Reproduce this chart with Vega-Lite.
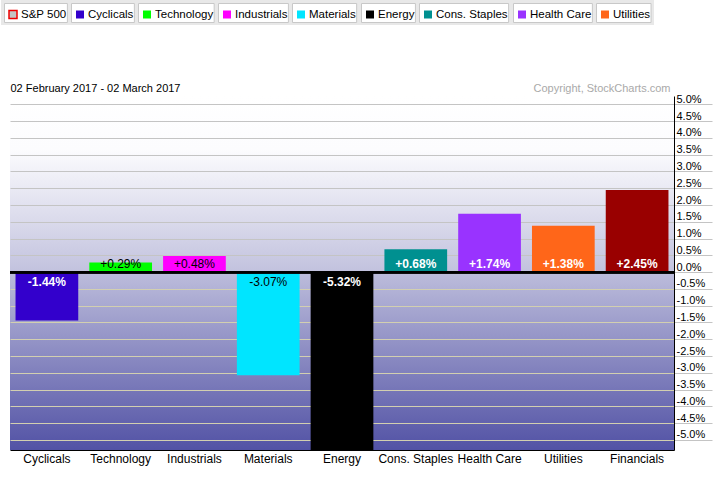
{
  "$schema": "https://vega.github.io/schema/vega-lite/v6.json",
  "width": 664,
  "height": 354,
  "autosize": {"type": "none"},
  "padding": {"left": 10, "top": 96, "right": 48, "bottom": 30},
  "background": "white",
  "view": {
    "stroke": null,
    "fill": {
      "gradient": "linear", "x1": 0, "y1": 0, "x2": 0, "y2": 1,
      "stops": [
        {"offset": 0, "color": "#ffffff"},
        {"offset": 0.15, "color": "#fcfcfe"},
        {"offset": 0.497, "color": "#c2c2de"},
        {"offset": 0.5, "color": "#bcbcdb"},
        {"offset": 1, "color": "#5252a5"}
      ]
    }
  },
  "config": {"font": "Liberation Sans"},
  "data": {
    "values": [
      {"sector": "Cyclicals", "change": -1.44, "label": "-1.44%"},
      {"sector": "Technology", "change": 0.29, "label": "+0.29%"},
      {"sector": "Industrials", "change": 0.48, "label": "+0.48%"},
      {"sector": "Materials", "change": -3.07, "label": "-3.07%"},
      {"sector": "Energy", "change": -5.32, "label": "-5.32%"},
      {"sector": "Cons. Staples", "change": 0.68, "label": "+0.68%"},
      {"sector": "Health Care", "change": 1.74, "label": "+1.74%"},
      {"sector": "Utilities", "change": 1.38, "label": "+1.38%"},
      {"sector": "Financials", "change": 2.45, "label": "+2.45%"}
    ]
  },
  "layer": [
    {
      "mark": {"type": "bar"},
      "encoding": {
        "x": {
          "field": "sector", "type": "nominal", "sort": null,
          "scale": {"paddingInner": 0.15, "paddingOuter": 0.075},
          "axis": {
            "title": "02 February 2017 - 02 March 2017",
            "titleX": 0, "titleY": -359, "titleAngle": 0,
            "titleAlign": "left", "titleAnchor": "start", "titleBaseline": "alphabetic",
            "titleFontSize": 11, "titleFontWeight": "normal", "titleColor": "black",
            "labelAngle": 0, "labelFontSize": 12, "labelColor": "black",
            "labelPadding": 3, "labelBaseline": "top",
            "ticks": false, "domainColor": "black", "domainWidth": 1, "grid": false
          }
        },
        "y": {
          "field": "change", "type": "quantitative",
          "scale": {"domain": [-5.3, 5.25], "clamp": true, "nice": false, "zero": false},
          "axis": {
            "orient": "right",
            "values": [-5, -4.5, -4, -3.5, -3, -2.5, -2, -1.5, -1, -0.5, 0, 0.5, 1, 1.5, 2, 2.5, 3, 3.5, 4, 4.5, 5],
            "tickCount": 50,
            "labelExpr": "(datum.value < 0 ? '-' : '') + format(abs(datum.value), '.1f') + '%'",
            "labelAlign": "left", "labelBaseline": "bottom", "labelPadding": -36,
            "labelFontSize": 11, "labelColor": "black",
            "labelFlush": false, "labelOverlap": false, "labelBound": false,
            "ticks": true, "tickSize": 38, "tickColor": "#c4c4c4", "tickWidth": 1,
            "domainColor": "black", "domainWidth": 1,
            "grid": true,
            "gridColor": {"condition": {"test": "datum.value < 0", "value": "#d2cfb0"}, "value": "#c4c4c4"},
            "gridWidth": 1,
            "title": "Copyright, StockCharts.com",
            "titleX": -4, "titleY": -5, "titleAngle": 0,
            "titleAlign": "right", "titleBaseline": "alphabetic",
            "titleFontSize": 11, "titleFontWeight": "normal", "titleColor": "#a9a9a9"
          }
        },
        "color": {
          "field": "sector", "type": "nominal",
          "scale": {
            "domain": ["S&P 500", "Cyclicals", "Technology", "Industrials", "Materials", "Energy", "Cons. Staples", "Health Care", "Utilities", "Financials"],
            "range": ["#c4c4c4", "#3300cc", "#00ff00", "#ff00ff", "#00e5ff", "#000000", "#009090", "#9933ff", "#ff6619", "#990000"]
          },
          "legend": {
            "orient": "none", "legendX": -9, "legendY": -96,
            "direction": "horizontal", "columns": 9,
            "values": ["S&P 500", "Cyclicals", "Technology", "Industrials", "Materials", "Energy", "Cons. Staples", "Health Care", "Utilities"],
            "title": null, "padding": 3, "fillColor": "#e8e8e8", "strokeColor": null,
            "columnPadding": 4, "rowPadding": 0,
            "symbolType": "square", "symbolSize": 64, "symbolStrokeWidth": 1.5,
            "labelFontSize": 11.5, "labelColor": "black", "labelFont": "Liberation Sans", "labelLimit": 300,
            "encode": {
              "entries": {
                "update": {
                  "fill": {"signal": "datum.value == 'S&P 500' ? '#c4c4c4' : '#ffffff'"},
                  "stroke": {"signal": "datum.value == 'S&P 500' ? '#8c8c8c' : '#c8c8c8'"},
                  "strokeWidth": {"value": 1},
                  "width": {"signal": "({'S&P 500': 67, 'Cyclicals': 67, 'Technology': 80, 'Industrials': 74, 'Materials': 69, 'Energy': 58, 'Cons. Staples': 92, 'Health Care': 83, 'Utilities': 59})[datum.value]"},
                  "height": {"value": 23}
                }
              },
              "symbols": {
                "update": {
                  "x": {"value": 9},
                  "y": {"value": 11.5},
                  "stroke": {"signal": "datum.value === 'S&P 500' ? '#ee0000' : 'transparent'"},
                  "strokeWidth": {"value": 1.5}
                }
              },
              "labels": {
                "update": {
                  "x": {"value": 17},
                  "y": {"value": 11.5},
                  "baseline": {"value": "middle"},
                  "align": {"value": "left"}
                }
              }
            }
          }
        }
      }
    },
    {
      "transform": [{"filter": "datum.change > 0 && (datum.sector === 'Technology' || datum.sector === 'Industrials')"}],
      "mark": {"type": "text", "fontSize": 12, "fontWeight": "normal", "color": "black", "baseline": "alphabetic", "dy": -4},
      "encoding": {
        "x": {"field": "sector", "type": "nominal", "sort": null},
        "y": {"datum": 0},
        "text": {"field": "label"}
      }
    },
    {
      "transform": [{"filter": "datum.change > 0 && datum.sector !== 'Technology' && datum.sector !== 'Industrials'"}],
      "mark": {"type": "text", "fontSize": 12, "fontWeight": "bold", "color": "white", "baseline": "alphabetic", "dy": -4},
      "encoding": {
        "x": {"field": "sector", "type": "nominal", "sort": null},
        "y": {"datum": 0},
        "text": {"field": "label"}
      }
    },
    {
      "transform": [{"filter": "datum.change < 0 && datum.sector === 'Materials'"}],
      "mark": {"type": "text", "fontSize": 12, "fontWeight": "normal", "color": "black", "baseline": "alphabetic", "dy": 14},
      "encoding": {
        "x": {"field": "sector", "type": "nominal", "sort": null},
        "y": {"datum": 0},
        "text": {"field": "label"}
      }
    },
    {
      "transform": [{"filter": "datum.change < 0 && datum.sector !== 'Materials'"}],
      "mark": {"type": "text", "fontSize": 12, "fontWeight": "bold", "color": "white", "baseline": "alphabetic", "dy": 14},
      "encoding": {
        "x": {"field": "sector", "type": "nominal", "sort": null},
        "y": {"datum": 0},
        "text": {"field": "label"}
      }
    },
    {
      "mark": {"type": "rule", "color": "black", "strokeWidth": 2},
      "encoding": {
        "y": {"datum": 0}
      }
    }
  ]
}
